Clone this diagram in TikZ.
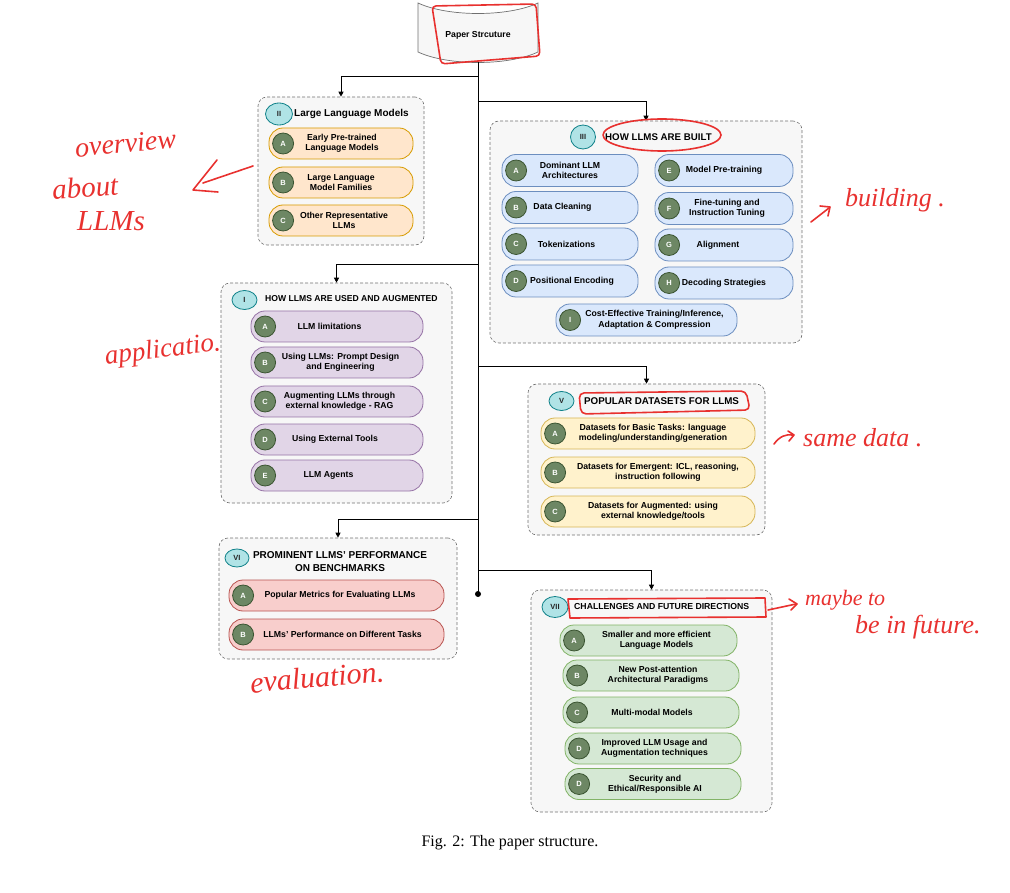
\documentclass[tikz,border=0pt]{standalone}
\usepackage{fontspec}
\setmainfont{Liberation Sans}
\newfontfamily\capfont{Liberation Serif}
\newfontfamily\handfont{Liberation Serif}
\usetikzlibrary{arrows.meta,shapes.geometric,calc}

\definecolor{secfill}{HTML}{F7F7F7}
\definecolor{secline}{HTML}{707070}
\definecolor{orfill}{HTML}{FFE6CC}\definecolor{orline}{HTML}{D79B00}
\definecolor{blfill}{HTML}{DAE8FC}\definecolor{blline}{HTML}{6C8EBF}
\definecolor{pufill}{HTML}{E1D5E7}\definecolor{puline}{HTML}{9673A6}
\definecolor{yefill}{HTML}{FFF2CC}\definecolor{yeline}{HTML}{D6B656}
\definecolor{refill}{HTML}{F8CECC}\definecolor{reline}{HTML}{B85450}
\definecolor{grfill}{HTML}{D5E8D4}\definecolor{grline}{HTML}{82B366}
\definecolor{bdfill}{HTML}{6D8764}\definecolor{bdline}{HTML}{3A5431}
\definecolor{hbfill}{HTML}{B0E3E6}\definecolor{hbline}{HTML}{0E8088}
\definecolor{inkred}{HTML}{E8312F}

\tikzset{
  sect/.style={draw=secline, fill=secfill, dash pattern=on 3pt off 2pt, rounded corners=9pt, line width=0.6pt, inner sep=0pt},
  pillbase/.style={rectangle, rounded corners=14pt, line width=0.8pt, minimum height=31pt, inner sep=0pt},
  pillor/.style={pillbase, draw=orline, fill=orfill},
  pillbl/.style={pillbase, draw=blline, fill=blfill, minimum height=32pt},
  pillpu/.style={pillbase, draw=puline, fill=pufill},
  pillye/.style={pillbase, draw=yeline, fill=yefill},
  pillre/.style={pillbase, draw=reline, fill=refill},
  pillgr/.style={pillbase, draw=grline, fill=grfill},
  badge/.style={circle, draw=bdline, fill=bdfill, line width=0.8pt, minimum size=21pt, inner sep=0pt, text=white, font=\bfseries\fontsize{7.5}{8}\selectfont},
  hbadge/.style={ellipse, draw=hbline, fill=hbfill, line width=0.8pt, minimum width=27pt, minimum height=22pt, inner sep=0pt, text=black!85, font=\bfseries\fontsize{7.5}{8}\selectfont},
  itxt/.style={font=\bfseries\fontsize{8.7}{10.5}\selectfont, align=center, inner sep=0pt},
  ttl/.style={anchor=west, inner sep=0pt, font=\bfseries\fontsize{9.8}{12}\selectfont},
  conn/.style={draw=black, line width=0.9pt, -{Triangle[length=5pt,width=5pt]}},
  inkline/.style={draw=inkred, line width=1.6pt, line cap=round, line join=round},
  hand/.style={text=inkred, anchor=west, inner sep=0pt}
}

\newcommand\mkpill[8]{%
  \node[#2, minimum width=#5] (#1) at (#3,#4) {};
  \node[badge] (#1b) at ($(#1.west)+(14.5,0)$) {#6};
  \node[itxt] (#1t) at ($(#1.center)+(#7,0)$) {#8};
}

\begin{document}
\begin{tikzpicture}[x=1pt,y=-1pt]
\useasboundingbox (0,0) rectangle (1010,893);

% paper structure banner
\draw[draw=secline, fill=secfill, line width=0.7pt] (418,3) .. controls (448,17) and (508,17) .. (538,3) -- (538,52) .. controls (508,66) and (448,66) .. (418,52) -- cycle;
\node[font=\bfseries\fontsize{8.7}{10}\selectfont, minimum width=120pt, minimum height=54pt, inner sep=0pt] (paper) at (478,35) {Paper Strcuture};

% section boxes
\node[sect, minimum width=166, minimum height=148] (sII) at (341,171) {};
\node[sect, minimum width=312, minimum height=222] (sIII) at (646,232) {};
\node[sect, minimum width=231, minimum height=220] (sI) at (336.5,393) {};
\node[sect, minimum width=237, minimum height=151] (sV) at (646.5,459.5) {};
\node[sect, minimum width=238, minimum height=121] (sVI) at (338,598.5) {};
\node[sect, minimum width=241, minimum height=222] (sVII) at (651.5,701) {};

% trunk and branches
\coordinate (j1) at (478,76);
\coordinate (j2) at (478,101);
\coordinate (j3) at (478,264);
\coordinate (j4) at (478,366);
\coordinate (j5) at (478,519);
\coordinate (j6) at (478,570);
\coordinate (tend) at (478,594);
\draw[line width=0.9pt] (paper.south) -- (tend);
\fill (tend) circle (3pt);
\draw[conn] (j1) -| (sII.north);
\draw[conn] (j2) -| (sIII.north);
\draw[conn] (j3) -| (sI.north);
\draw[conn] (j4) -| (sV.north);
\draw[conn] (j5) -| (sVI.north);
\draw[conn] (j6) -| (sVII.north);

% II
\node[hbadge] (hII) at (279,114) {II};
\node[ttl, font=\bfseries\fontsize{10}{12}\selectfont] (tII) at (294,114) {Large Language Models};
\mkpill{iIIA}{pillor}{341}{143.5}{144}{A}{1}{Early Pre-trained\\Language Models}
\mkpill{iIIB}{pillor}{341}{182.5}{144}{B}{0}{Large Language\\Model Families}
\mkpill{iIIC}{pillor}{341}{220.5}{144}{C}{3}{Other Representative\\LLMs}

% III
\node[hbadge, minimum width=25pt, minimum height=24pt] (hIII) at (583,137) {III};
\node[ttl, font=\bfseries\fontsize{9.7}{12}\selectfont] (tIII) at (605,137) {HOW LLMS ARE BUILT};
\mkpill{iIIIA}{pillbl}{570}{170.5}{136}{A}{0}{Dominant LLM\\Architectures}
\mkpill{iIIIB}{pillbl}{570}{207.5}{136}{B}{-7.5}{Data Cleaning}
\mkpill{iIIIC}{pillbl}{570}{244}{136}{C}{-3.5}{Tokenizations}
\mkpill{iIIID}{pillbl}{570}{281}{136}{D}{2}{Positional Encoding}
\mkpill{iIIIE}{pillbl}{724}{170.5}{138}{E}{0}{Model Pre-training}
\mkpill{iIIIF}{pillbl}{724}{208.5}{138}{F}{3}{Fine-tuning and\\Instruction Tuning}
\mkpill{iIIIG}{pillbl}{724}{245}{138}{G}{-6}{Alignment}
\mkpill{iIIIH}{pillbl}{724}{283}{138}{H}{0}{Decoding Strategies}
\mkpill{iIIII}{pillbl}{646.5}{320}{181}{I}{8}{Cost-Effective Training/Inference,\\Adaptation \& Compression}

% I
\node[hbadge, minimum width=25pt, minimum height=19pt] (hI) at (244.5,300) {I};
\node[ttl, font=\bfseries\fontsize{8.6}{12}\selectfont] (tI) at (265,299) {HOW LLMS ARE USED AND AUGMENTED};
\mkpill{iIA}{pillpu}{337}{326.5}{172}{A}{-7.5}{LLM limitations}
\mkpill{iIB}{pillpu}{337}{362.5}{172}{B}{3.5}{Using LLMs: Prompt Design\\and Engineering}
\mkpill{iIC}{pillpu}{337}{401.5}{172}{C}{2.5}{Augmenting LLMs through\\external knowledge - RAG}
\mkpill{iID}{pillpu}{337}{439.5}{172}{D}{-2}{Using External Tools}
\mkpill{iIE}{pillpu}{337}{475.5}{172}{E}{-8.5}{LLM Agents}

% V
\node[hbadge, minimum width=25pt, minimum height=19pt] (hV) at (561.5,401) {V};
\node[ttl] (tV) at (584,401) {POPULAR DATASETS FOR LLMS};
\mkpill{iVA}{pillye}{648}{433.5}{214}{A}{5}{Datasets for Basic Tasks: language\\modeling/understanding/generation}
\mkpill{iVB}{pillye}{648}{472.5}{214}{B}{10}{Datasets for Emergent: ICL, reasoning,\\instruction following}
\mkpill{iVC}{pillye}{648}{511.5}{214}{C}{5}{Datasets for Augmented: using\\external knowledge/tools}

% VI
\node[hbadge, minimum width=24pt, minimum height=18pt] (hVI) at (237,558) {VI};
\node[font=\bfseries\fontsize{10}{13}\selectfont, align=center, inner sep=0pt] (tVI) at (340,561.5) {PROMINENT LLMS’ PERFORMANCE\\ON BENCHMARKS};
\mkpill{iVIA}{pillre}{336.5}{595.5}{215}{A}{3.5}{Popular Metrics for Evaluating LLMs}
\mkpill{iVIB}{pillre}{336.5}{634.5}{215}{B}{6}{LLMs’ Performance on Different Tasks}

% VII
\node[hbadge, minimum width=26pt, minimum height=21pt] (hVII) at (555,607) {VII};
\node[ttl, font=\bfseries\fontsize{8.7}{12}\selectfont] (tVII) at (574,607) {CHALLENGES AND FUTURE DIRECTIONS};
\mkpill{iVIIA}{pillgr}{648.5}{640.5}{177}{A}{8}{Smaller and more efficient\\Language Models}
\mkpill{iVIIB}{pillgr}{651}{675.5}{176}{B}{7}{New Post-attention\\Architectural Paradigms}
\mkpill{iVIIC}{pillgr}{651}{712.5}{176}{C}{1}{Multi-modal Models}
\mkpill{iVIID}{pillgr}{653}{748.5}{176}{D}{1.5}{Improved LLM Usage and\\Augmentation techniques}
\mkpill{iVIIE}{pillgr}{653}{784}{176}{D}{2}{Security and\\Ethical/Responsible AI}

% caption
\node[font=\capfont\fontsize{16}{19}\selectfont, inner sep=0pt] (cap) at (510,843) {Fig. 2: The paper structure.};

% red annotations
\draw[inkline, rounded corners=4pt] (432,6) -- (536,4) -- (540,56) -- (441,64) -- cycle;
\draw[inkline] (662,135) ellipse [x radius=59, y radius=16];
\draw[inkline, rounded corners=5pt] (579,393) -- (746,391) -- (750,410) -- (581,414) -- cycle;
\draw[inkline] (568,599) -- (765,598) -- (766,617) -- (570,618) -- cycle;
\draw[inkline] (768,610) -- (796,604);
\draw[inkline] (789,599) -- (797,604) -- (791,610);
\draw[inkline] (253,166) -- (203,183);
\draw[inkline] (217,160) -- (193,190) -- (218,192);
\draw[inkline] (811,222) -- (829,208);
\draw[inkline] (820,206) -- (830,207) -- (828,216);
\draw[inkline] (774,444) .. controls (780,436) and (786,434) .. (793,435);
\draw[inkline] (788,431) -- (794,435) -- (789,441);

\node[hand, font=\handfont\itshape\fontsize{28}{28}\selectfont, rotate=5] (hw1) at (75,148) {overview};
\node[hand, font=\handfont\itshape\fontsize{29}{29}\selectfont, rotate=4] (hw2) at (52,190) {about};
\node[hand, font=\handfont\itshape\fontsize{29}{29}\selectfont] (hw3) at (77,221) {LLMs};
\node[hand, font=\handfont\itshape\fontsize{27}{27}\selectfont, rotate=7] (hw4) at (105,358) {applicatio.};
\node[hand, font=\handfont\itshape\fontsize{26}{26}\selectfont] (hw5) at (845,200) {building .};
\node[hand, font=\handfont\itshape\fontsize{26}{26}\selectfont] (hw6) at (803,438) {same data .};
\node[hand, font=\handfont\itshape\fontsize{22}{22}\selectfont] (hw7) at (805,600) {maybe to};
\node[hand, font=\handfont\itshape\fontsize{26}{26}\selectfont] (hw8) at (855,627) {be in future.};
\node[hand, font=\handfont\itshape\fontsize{30}{30}\selectfont, rotate=5] (hw9) at (250,683) {evaluation.};
\end{tikzpicture}
\end{document}
